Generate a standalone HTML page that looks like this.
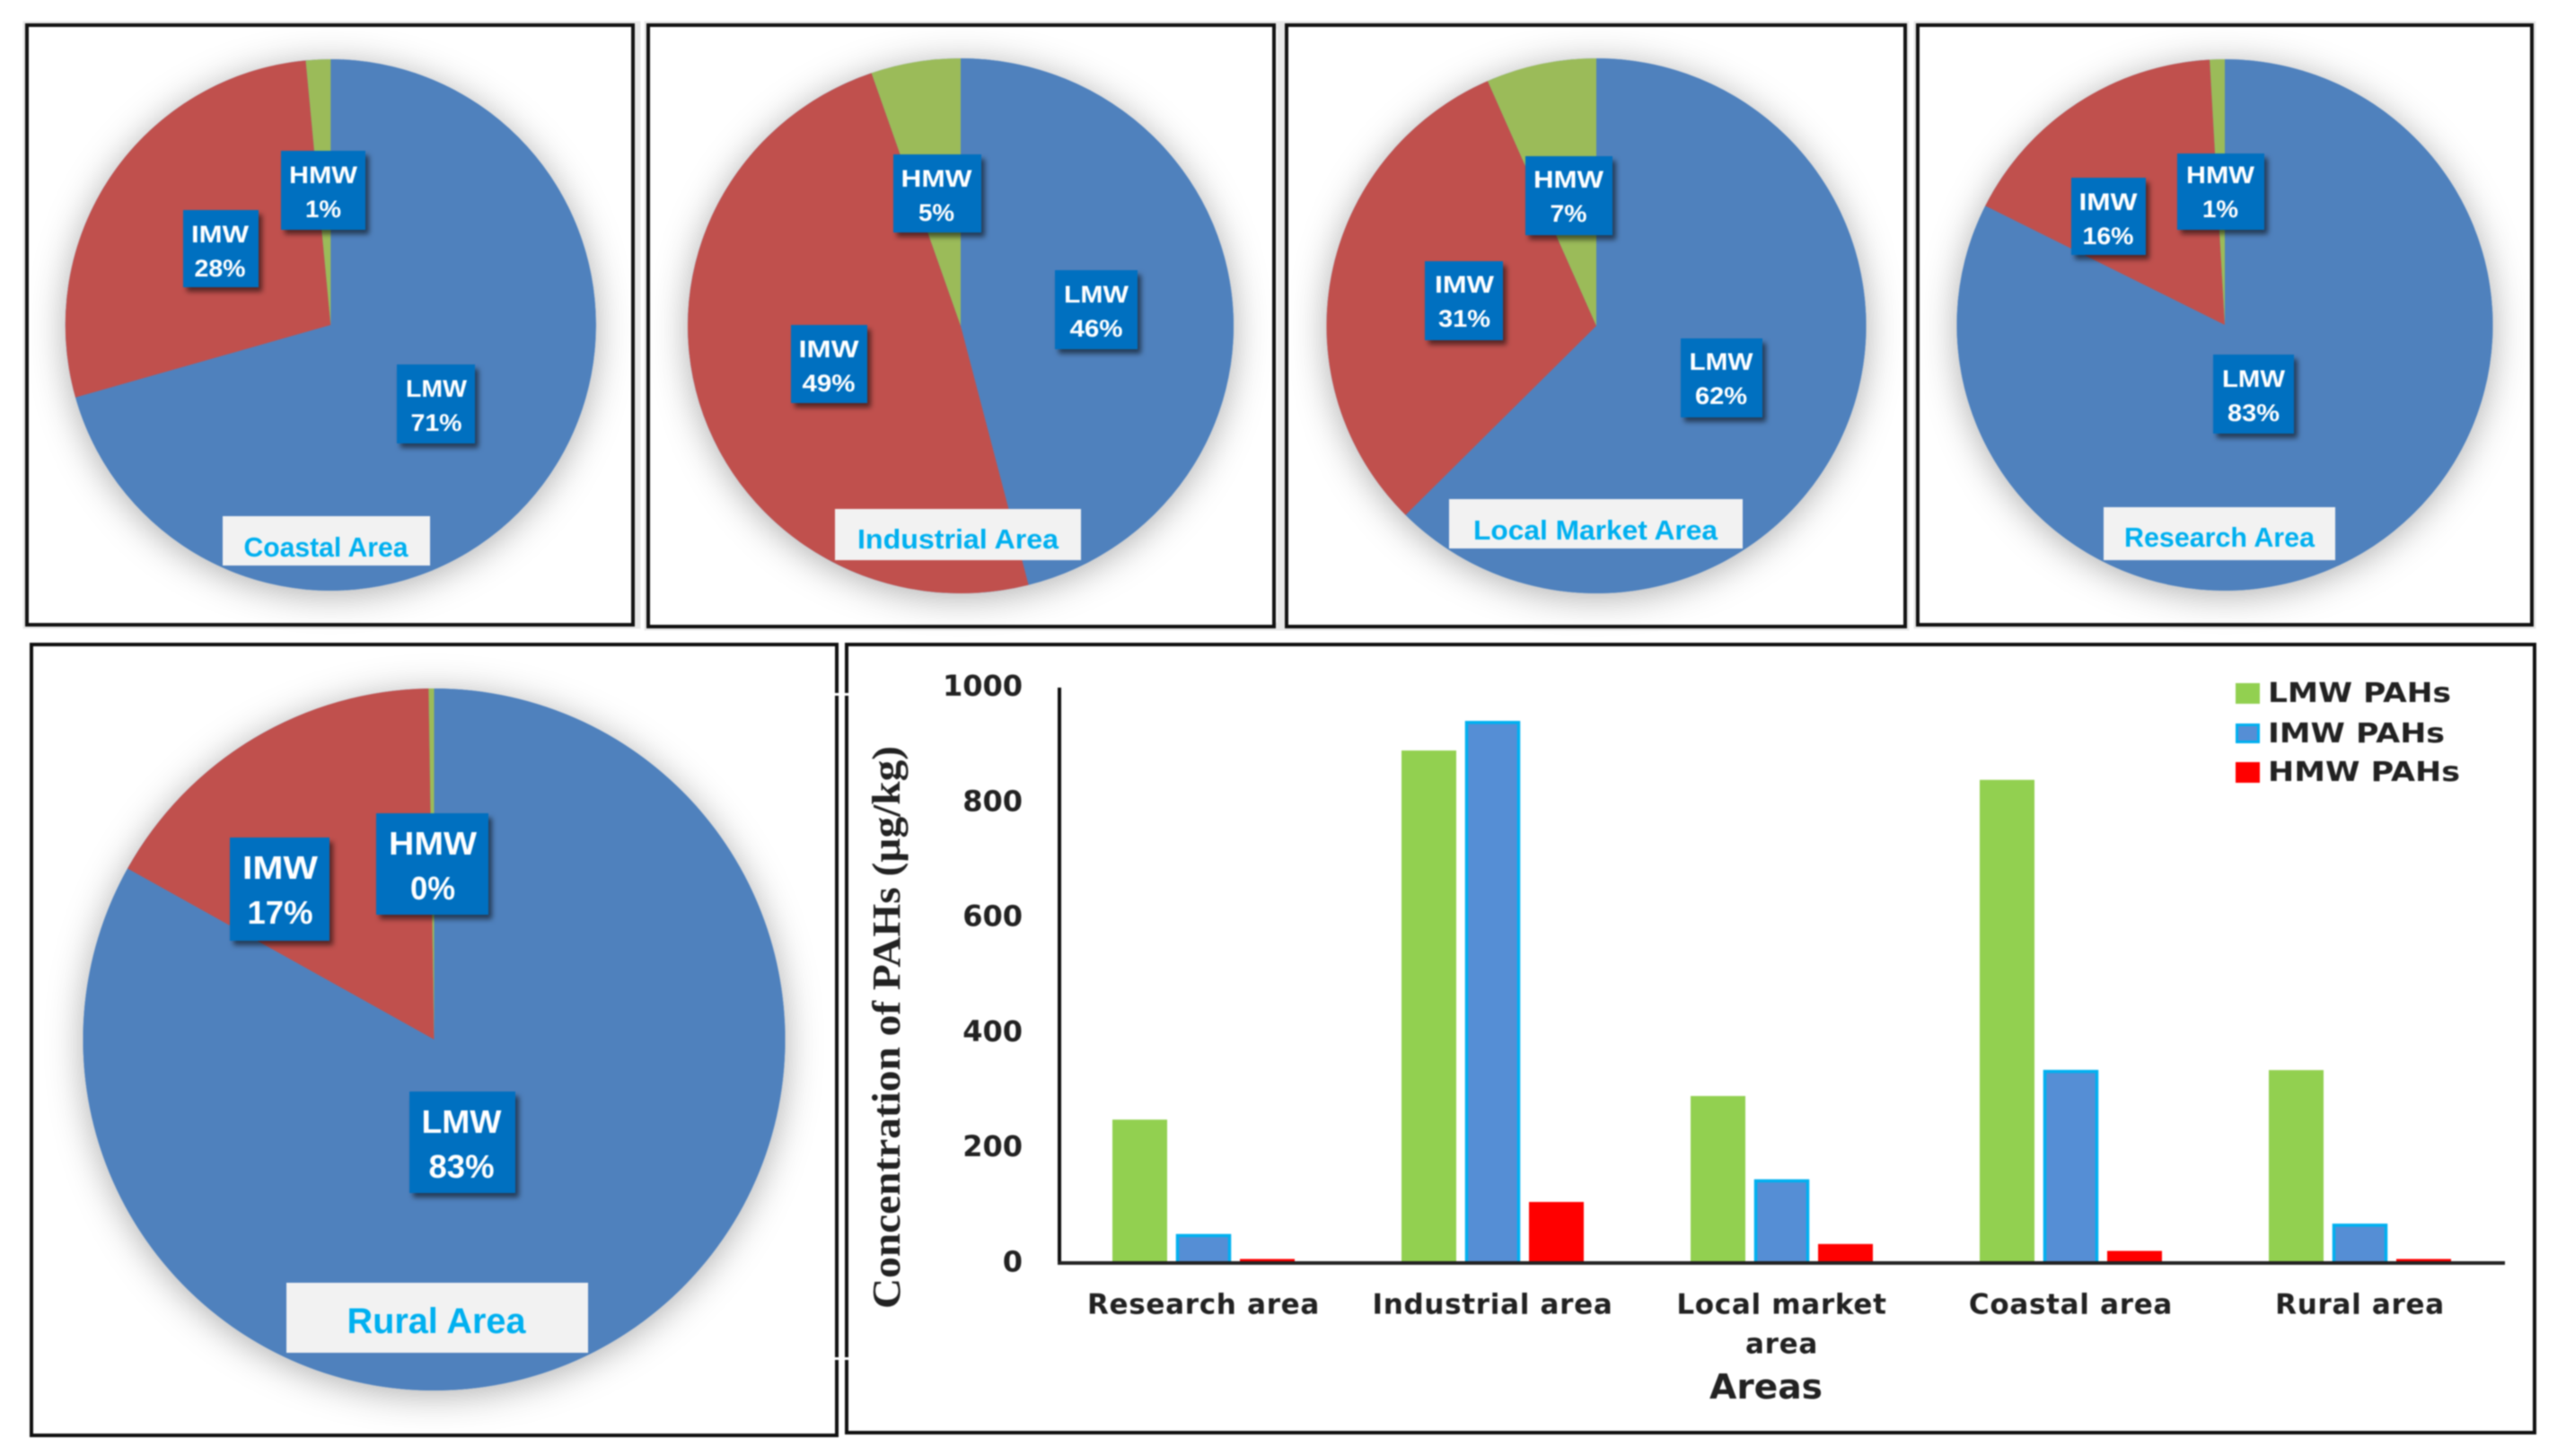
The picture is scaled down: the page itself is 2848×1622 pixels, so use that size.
<!DOCTYPE html>
<html lang="en">
<head>
<meta charset="utf-8">
<title>PAHs by area</title>
<style>
html,body{margin:0;padding:0;background:#fff;width:2848px;height:1622px;overflow:hidden}
svg{display:block;filter:blur(.8px)}
.lb{fill:#0070C0;filter:url(#box-shadow)}
.lt{fill:#fff;font-family:"Liberation Sans",sans-serif;font-weight:bold;font-size:27px;text-anchor:middle}
.lt.big{font-size:36px}
.tb{fill:#F2F2F2}
.tt{fill:#00B0F0;font-family:"Liberation Sans",sans-serif;font-weight:bold;font-size:31px;text-anchor:middle}
.tt.big{font-size:40px}
.panel{fill:#fff;stroke:#111;stroke-width:4}
.halo{fill:none;stroke:#e9e9e9;stroke-width:9}
.axis-text{font-family:"DejaVu Sans",sans-serif;font-weight:bold;fill:#222}
</style>
</head>
<body>
<svg xmlns="http://www.w3.org/2000/svg" width="2848" height="1622" viewBox="0 0 2848 1622">
<defs>
<filter id="pie-shadow" x="-20%" y="-20%" width="140%" height="140%"><feDropShadow dx="0" dy="5" stdDeviation="20" flood-color="#000" flood-opacity=".32"/></filter>
<filter id="box-shadow" x="-20%" y="-20%" width="150%" height="150%"><feDropShadow dx="4" dy="5" stdDeviation="3" flood-color="#000" flood-opacity=".55"/></filter>
</defs>

<!-- panels -->
<g>
<rect class="halo" x="30" y="28" width="679" height="668"/><rect class="panel" x="30" y="28" width="675" height="668"/>
<rect class="halo" x="722" y="28" width="705" height="670"/><rect class="panel" x="722" y="28" width="697" height="670"/>
<rect class="halo" x="1433" y="28" width="689" height="670"/><rect class="panel" x="1433" y="28" width="689" height="670"/>
<rect class="halo" x="2136" y="28" width="684" height="668"/><rect class="panel" x="2136" y="28" width="684" height="668"/>
<rect class="panel" x="35" y="718" width="897" height="881"/>
<rect class="panel" x="943" y="718" width="1880" height="878"/>
<rect x="926" y="772" width="24" height="3" fill="#fff"/>
<rect x="926" y="1512" width="24" height="3" fill="#fff"/>
</g>

<!-- pie slices are drawn here by script -->
<g id="pie-coastal"></g>
<g id="pie-industrial"></g>
<g id="pie-local"></g>
<g id="pie-research"></g>
<g id="pie-rural"></g>

<!-- Coastal labels -->
<g><rect class="lb" x="442" y="406" width="87" height="88"/><text class="lt" x="486" y="442" textLength="68" lengthAdjust="spacingAndGlyphs">LMW</text><text class="lt" x="486" y="480" textLength="57" lengthAdjust="spacingAndGlyphs">71%</text></g>
<g><rect class="lb" x="204" y="234" width="84" height="86"/><text class="lt" x="245" y="270" textLength="64" lengthAdjust="spacingAndGlyphs">IMW</text><text class="lt" x="245" y="308" textLength="57" lengthAdjust="spacingAndGlyphs">28%</text></g>
<g><rect class="lb" x="313" y="168" width="94" height="88"/><text class="lt" x="360" y="204" textLength="76" lengthAdjust="spacingAndGlyphs">HMW</text><text class="lt" x="360" y="242" textLength="40" lengthAdjust="spacingAndGlyphs">1%</text></g>
<g><rect class="tb" x="248" y="575" width="231" height="55"/><text class="tt" x="363" y="620" textLength="183" lengthAdjust="spacingAndGlyphs">Coastal Area</text></g>

<!-- Industrial labels -->
<g><rect class="lb" x="1175" y="301" width="92" height="88"/><text class="lt" x="1221" y="337" textLength="72" lengthAdjust="spacingAndGlyphs">LMW</text><text class="lt" x="1221" y="375" textLength="59" lengthAdjust="spacingAndGlyphs">46%</text></g>
<g><rect class="lb" x="881" y="362" width="85" height="87"/><text class="lt" x="923" y="398" textLength="67" lengthAdjust="spacingAndGlyphs">IMW</text><text class="lt" x="923" y="436" textLength="59" lengthAdjust="spacingAndGlyphs">49%</text></g>
<g><rect class="lb" x="995" y="172" width="98" height="87"/><text class="lt" x="1043" y="208" textLength="79" lengthAdjust="spacingAndGlyphs">HMW</text><text class="lt" x="1043" y="246" textLength="40" lengthAdjust="spacingAndGlyphs">5%</text></g>
<g><rect class="tb" x="930" y="567" width="274" height="57"/><text class="tt" x="1067" y="611" textLength="224" lengthAdjust="spacingAndGlyphs">Industrial Area</text></g>

<!-- Local market labels -->
<g><rect class="lb" x="1872" y="377" width="91" height="88"/><text class="lt" x="1917" y="412" textLength="71" lengthAdjust="spacingAndGlyphs">LMW</text><text class="lt" x="1917" y="450" textLength="58" lengthAdjust="spacingAndGlyphs">62%</text></g>
<g><rect class="lb" x="1587" y="291" width="87" height="88"/><text class="lt" x="1631" y="326" textLength="66" lengthAdjust="spacingAndGlyphs">IMW</text><text class="lt" x="1631" y="364" textLength="58" lengthAdjust="spacingAndGlyphs">31%</text></g>
<g><rect class="lb" x="1699" y="174" width="97" height="88"/><text class="lt" x="1747" y="209" textLength="78" lengthAdjust="spacingAndGlyphs">HMW</text><text class="lt" x="1747" y="247" textLength="41" lengthAdjust="spacingAndGlyphs">7%</text></g>
<g><rect class="tb" x="1614" y="556" width="327" height="55"/><text class="tt" x="1777" y="601" textLength="272" lengthAdjust="spacingAndGlyphs">Local Market Area</text></g>

<!-- Research labels -->
<g><rect class="lb" x="2465" y="395" width="90" height="88"/><text class="lt" x="2510" y="431" textLength="70" lengthAdjust="spacingAndGlyphs">LMW</text><text class="lt" x="2510" y="469" textLength="58" lengthAdjust="spacingAndGlyphs">83%</text></g>
<g><rect class="lb" x="2307" y="198" width="83" height="86"/><text class="lt" x="2348" y="234" textLength="65" lengthAdjust="spacingAndGlyphs">IMW</text><text class="lt" x="2348" y="272" textLength="57" lengthAdjust="spacingAndGlyphs">16%</text></g>
<g><rect class="lb" x="2425" y="171" width="97" height="85"/><text class="lt" x="2473" y="204" textLength="76" lengthAdjust="spacingAndGlyphs">HMW</text><text class="lt" x="2473" y="242" textLength="40" lengthAdjust="spacingAndGlyphs">1%</text></g>
<g><rect class="tb" x="2343" y="565" width="258" height="59"/><text class="tt" x="2472" y="609" textLength="212" lengthAdjust="spacingAndGlyphs">Research Area</text></g>

<!-- Rural labels -->
<g><rect class="lb" x="456" y="1216" width="118" height="113"/><text class="lt big" x="514" y="1262" textLength="89" lengthAdjust="spacingAndGlyphs">LMW</text><text class="lt big" x="514" y="1312" textLength="73" lengthAdjust="spacingAndGlyphs">83%</text></g>
<g><rect class="lb" x="256" y="933" width="111" height="115"/><text class="lt big" x="312" y="979" textLength="84" lengthAdjust="spacingAndGlyphs">IMW</text><text class="lt big" x="312" y="1029" textLength="73" lengthAdjust="spacingAndGlyphs">17%</text></g>
<g><rect class="lb" x="419" y="906" width="125" height="113"/><text class="lt big" x="482" y="952" textLength="98" lengthAdjust="spacingAndGlyphs">HMW</text><text class="lt big" x="482" y="1002" textLength="50" lengthAdjust="spacingAndGlyphs">0%</text></g>
<g><rect class="tb" x="319" y="1429" width="336" height="78"/><text class="tt big" x="486" y="1485" textLength="199" lengthAdjust="spacingAndGlyphs">Rural Area</text></g>

<!-- Bar chart -->
<g id="bar-chart">
<g id="bars"></g>
<g id="y-ticks"></g>
<g id="x-ticks"></g>
<line x1="1180" y1="766" x2="1180" y2="1409" stroke="#111" stroke-width="4"/>
<line x1="1178" y1="1407" x2="2790" y2="1407" stroke="#222" stroke-width="4"/>
<text transform="translate(1002,1458) rotate(-90)" font-family="'Liberation Serif',serif" font-weight="bold" font-size="44" fill="#222" textLength="627" lengthAdjust="spacingAndGlyphs">Concentration of PAHs (µg/kg)</text>
<text x="1904" y="1558" font-family="'DejaVu Sans',sans-serif" font-weight="bold" font-size="38" fill="#222" textLength="126" lengthAdjust="spacingAndGlyphs">Areas</text>
<g>
<g><rect x="2490" y="761" width="27" height="23" fill="#92D050"/><text class="axis-text" x="2526" y="782" font-size="30" textLength="204" lengthAdjust="spacingAndGlyphs">LMW PAHs</text></g>
<g><rect x="2491.5" y="807.5" width="24" height="19" fill="#558ED5" stroke="#00B0F0" stroke-width="3"/><text class="axis-text" x="2526" y="827" font-size="30" textLength="197" lengthAdjust="spacingAndGlyphs">IMW PAHs</text></g>
<g><rect x="2490" y="849" width="27" height="23" fill="#FF0000"/><text class="axis-text" x="2526" y="870" font-size="30" textLength="214" lengthAdjust="spacingAndGlyphs">HMW PAHs</text></g>
</g>
</g>
</svg>

<script>
// Pie shares in percent, read from the slice boundaries: LMW, IMW, HMW
var coastalShares = [70.6, 27.9, 1.5];
var industrialShares = [46.0, 48.7, 5.3];
var localMarketShares = [62.5, 30.9, 6.6];
var researchShares = [82.4, 16.7, 0.9];
var ruralShares = [83.1, 16.65, 0.25];

// Bar chart data
var categories = ['Research area', 'Industrial area', 'Local market area', 'Coastal area', 'Rural area'];
var lmwValues = [249, 890, 290, 839, 335];
var imwValues = [50, 941, 145, 335, 68];
var hmwValues = [7, 106, 33, 21, 7];
var yTickLabels = ['0', '200', '400', '600', '800', '1000'];

var SVG_NS = 'http://www.w3.org/2000/svg';

function make(tag, attrs, parent) {
  var el = document.createElementNS(SVG_NS, tag);
  for (var k in attrs) el.setAttribute(k, attrs[k]);
  parent.appendChild(el);
  return el;
}

function drawPie(groupId, shares, cx, cy, rx, ry) {
  var group = document.getElementById(groupId);
  var colors = ['#4F81BD', '#C0504D', '#9BBB59'];
  var names = ['lmw', 'imw', 'hmw'];
  var total = shares.reduce(function (a, b) { return a + b; }, 0);
  var base = make('ellipse', {cx: cx, cy: cy, rx: rx, ry: ry, fill: '#4F81BD', filter: 'url(#pie-shadow)'}, group);
  
  
  var angle = 0;
  shares.forEach(function (share, i) {
    var sweep = share / total * 2 * Math.PI;
    var end = angle + sweep;
    var x0 = cx + rx * Math.sin(angle), y0 = cy - ry * Math.cos(angle);
    var x1 = cx + rx * Math.sin(end), y1 = cy - ry * Math.cos(end);
    var large = sweep > Math.PI ? 1 : 0;
    var d = 'M' + cx + ',' + cy + 'L' + x0 + ',' + y0 + 'A' + rx + ',' + ry + ' 0 ' + large + ' 1 ' + x1 + ',' + y1 + 'Z';
    var slice = make('path', {d: d, fill: colors[i]}, group);
    
    
    angle = end;
  });
}

drawPie('pie-coastal', coastalShares, 368.3, 362, 295.5, 296);
drawPie('pie-industrial', industrialShares, 1070, 363, 304, 298);
drawPie('pie-local', localMarketShares, 1778, 363, 300.5, 298);
drawPie('pie-research', researchShares, 2478, 362, 298.5, 296);
drawPie('pie-rural', ruralShares, 483.5, 1158, 391, 391);

function yScale(v) { return 1407 - v * 0.6415; }
function xCenter(i) { return 1340.5 + i * 322; }

var BAR_W = 61;
var BAR_STEP = 71;

function drawSeries(values, key, offset, fill, stroke) {
  var group = document.getElementById('bars');
  values.forEach(function (v, i) {
    var top = yScale(v);
    var inset = stroke ? 1.5 : 0;
    var attrs = {
      x: xCenter(i) + offset * BAR_STEP - BAR_W / 2 + inset,
      y: top + inset,
      width: BAR_W - inset * 2,
      height: Math.max(yScale(0) - top - inset, 0),
      fill: fill
    };
    if (stroke) { attrs.stroke = stroke; attrs['stroke-width'] = 3.5; }
    var bar = make('rect', attrs, group);
    
    
  });
}

drawSeries(lmwValues, 'lmw', -1, '#92D050', null);
drawSeries(imwValues, 'imw', 0, '#558ED5', '#00B0F0');
drawSeries(hmwValues, 'hmw', 1, '#FF0000', null);

yTickLabels.forEach(function (label) {
  var tick = make('text', {x: 1139, y: yScale(Number(label)) + 9.5, 'text-anchor': 'end', 'font-size': 32, 'class': 'axis-text'}, document.getElementById('y-ticks'));
  
  
  tick.textContent = label;
});

function wrapLabel(text) {
  var lines = [], line = '';
  text.split(' ').forEach(function (word) {
    var next = line ? line + ' ' + word : word;
    if (next.length > 15) { lines.push(line); line = word; } else { line = next; }
  });
  lines.push(line);
  return lines;
}

categories.forEach(function (name, i) {
  wrapLabel(name).forEach(function (line, j) {
    var label = make('text', {x: xCenter(i), y: 1463.5 + j * 44, 'text-anchor': 'middle', 'font-size': 31, 'letter-spacing': '0.7', 'class': 'axis-text'}, document.getElementById('x-ticks'));
    
    
    label.textContent = line;
  });
});
</script>
</body>
</html>
